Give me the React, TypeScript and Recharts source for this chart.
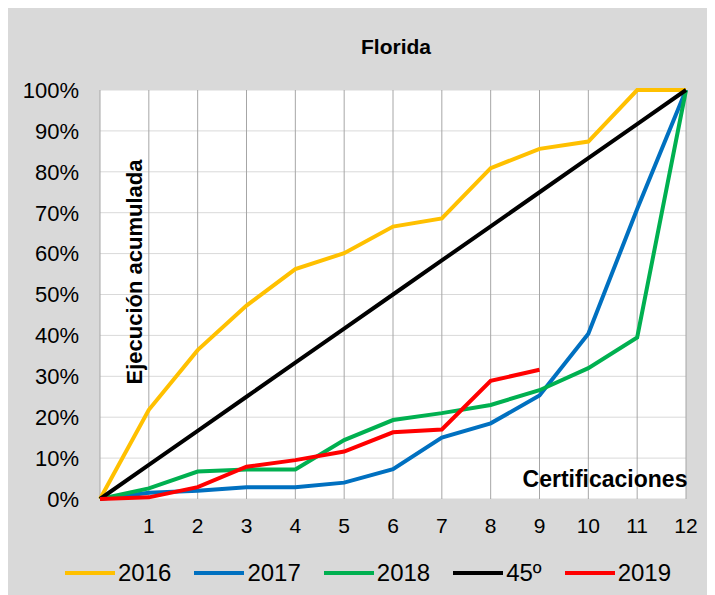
import React from 'react';
import { LineChart, Line, XAxis, YAxis, CartesianGrid } from 'recharts';

// certificaciones (0 = inicio)
const certificaciones = [0, 1, 2, 3, 4, 5, 6, 7, 8, 9, 10, 11, 12];

// ejecución acumulada, %
const ejec2016 = [0, 21.8, 36.4, 47.3, 56.2, 60.1, 66.6, 68.6, 80.9, 85.6, 87.4, 100, 100];
const ejec2017 = [0, 1.5, 2.0, 2.9, 2.9, 4.0, 7.3, 15.0, 18.5, 25.3, 40.4, 70.9, 100];
const ejec2018 = [0, 2.6, 6.7, 7.2, 7.2, 14.4, 19.3, 21.0, 23.0, 26.6, 32.0, 39.5, 100];
const ejec45 = [0, 8.33, 16.67, 25, 33.33, 41.67, 50, 58.33, 66.67, 75, 83.33, 91.67, 100];
const ejec2019 = [0, 0.4, 2.9, 7.9, 9.5, 11.6, 16.3, 17.0, 28.9, 31.6];

const xTicks = [1, 2, 3, 4, 5, 6, 7, 8, 9, 10, 11, 12];
const yTicks = [0, 10, 20, 30, 40, 50, 60, 70, 80, 90, 100];

const series = [
  { key: 's2016', name: '2016', color: '#ffc000' },
  { key: 's2017', name: '2017', color: '#0070c0' },
  { key: 's2018', name: '2018', color: '#00b050' },
  { key: 's45', name: '45º', color: '#000000' },
  { key: 's2019', name: '2019', color: '#ff0000' },
];

const data = certificaciones.map((c, i) => ({
  cert: c,
  s2016: ejec2016[i],
  s2017: ejec2017[i],
  s2018: ejec2018[i],
  s45: ejec45[i],
  s2019: ejec2019[i],
}));

const font = '"Liberation Sans", Arial, sans-serif';

const App: React.FC = () => {
  return (
    <div
      style={{
        position: 'relative',
        width: 710,
        height: 587,
        marginLeft: -4,
        background: '#d9d9d9',
        fontFamily: font,
      }}
    >
      <LineChart
        width={710}
        height={587}
        data={data}
        margin={{ top: 82, right: 28, left: 0, bottom: 0 }}
      >
        <CartesianGrid horizontal={true} vertical={false} stroke="#d9d9d9" fill="#ffffff" fillOpacity={1} />
        <CartesianGrid horizontal={false} vertical={true} stroke="#a6a6a6" />
        <XAxis
          dataKey="cert"
          type="number"
          domain={[0, 12]}
          ticks={xTicks}
          height={96}
          axisLine={false}
          tickLine={false}
          tickSize={0}
          tickMargin={19}
          tick={{ fontSize: 21, fill: '#000', fontFamily: font }}
          interval={0}
        />
        <YAxis
          type="number"
          domain={[0, 100]}
          ticks={yTicks}
          width={96}
          axisLine={false}
          tickLine={false}
          tickSize={0}
          tickMargin={21}
          tick={{ fontSize: 22, fill: '#000', fontFamily: font }}
          tickFormatter={(v) => `${v}%`}
          interval={0}
        />
        {series.map((s) => (
          <Line
            key={s.key}
            type="linear"
            dataKey={s.key}
            name={s.name}
            stroke={s.color}
            strokeWidth={4}
            dot={false}
            activeDot={false}
            isAnimationActive={false}
          />
        ))}
      </LineChart>

      <svg
        width={710}
        height={587}
        style={{ position: 'absolute', left: 0, top: 0, pointerEvents: 'none' }}
      >
        <text x={392} y={46} textAnchor="middle" fontSize={21} fontWeight="bold" fontFamily={font} fill="#000">
          Florida
        </text>
        <text
          x={138}
          y={264}
          textAnchor="middle"
          fontSize={22}
          fontWeight="bold"
          fontFamily={font}
          fill="#000"
          transform="rotate(-90 138 264)"
        >
          Ejecución acumulada
        </text>
        <text x={601} y={479} textAnchor="middle" fontSize={23} fontWeight="bold" fontFamily={font} fill="#000">
          Certificaciones
        </text>
      </svg>

      <div
        style={{
          position: 'absolute',
          left: 61,
          top: 552,
          display: 'flex',
          alignItems: 'center',
          gap: 23,
          fontSize: 24,
          color: '#000',
          lineHeight: '26px',
        }}
      >
        {series.map((s) => (
          <div key={s.key} style={{ display: 'flex', alignItems: 'center' }}>
            <div style={{ width: 50, height: 4, background: s.color, marginRight: 3 }} />
            <span>{s.name}</span>
          </div>
        ))}
      </div>
    </div>
  );
};

export default App;
